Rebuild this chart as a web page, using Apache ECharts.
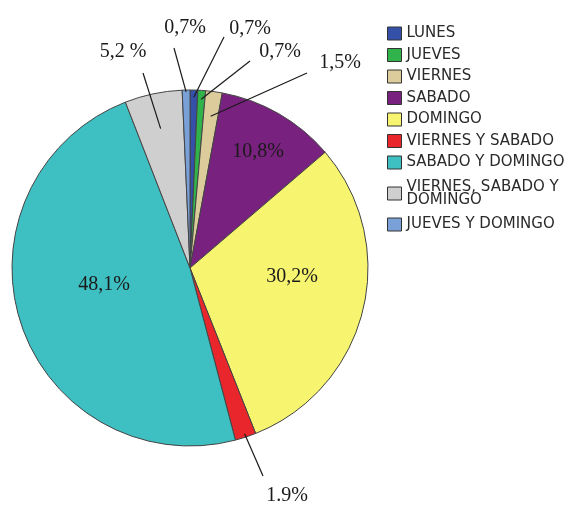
<!DOCTYPE html>
<html>
<head>
<meta charset="utf-8">
<title>Dias</title>
<script src="https://cdn.jsdelivr.net/npm/echarts@6/dist/echarts.min.js"></script>
<style>
html, body { margin: 0; padding: 0; background: #fff; }
#mainchart { width: 585px; height: 507px; }
</style>
</head>
<body>
<div id="mainchart"></div>
<script>
// categorias y porcentajes, en el orden de la leyenda (sentido horario desde las 12)
var categories = ['LUNES', 'JUEVES', 'VIERNES', 'SABADO', 'DOMINGO', 'VIERNES Y SABADO',
	'SABADO Y DOMINGO', 'VIERNES, SABADO Y DOMINGO', 'JUEVES Y DOMINGO'];
var percents = [0.7, 0.7, 1.5, 10.8, 30.2, 1.9, 48.1, 5.2, 0.7];
var labelTexts = ['0,7%', '0,7%', '1,5%', '10,8%', '30,2%', '1.9%', '48,1%', '5,2 %', '0,7%'];
var insideCats = ['SABADO', 'DOMINGO', 'SABADO Y DOMINGO'];

var colors = ['#3550a8', '#2fb34a', '#dccc9c', '#79217f', '#f7f46f', '#e8262c',
	'#3ebfc1', '#cfcfcf', '#7aa0d8'];

// geometria del pastel
var pieCenter = [190, 268];
var pieRadius = 178;
// posicion de cada etiqueta (centro del texto)
var labelPos = [[250, 29], [280, 52], [340, 63], [258, 152], [292, 277],
	[287, 496], [104, 285], [123, 52], [185, 28]];
// extremo exterior de cada linea guia y fraccion del radio donde empieza
var lineEnd = [[224, 37], [250, 61], [307, 73], null, null, [263, 476], null, [143, 73], [174, 48]];
var lineInner = [0.96, 0.95, 0.86, 0, 0, 0.98, 0, 0.8, 0.99];

var labelFont = 'Liberation Serif';
var legendFont = 'DejaVu Sans';

/**
 * datos del pastel; overlay = capa transparente que solo dibuja las lineas guia
 */
function buildData(overlay) {
	var arr = [];
	for (var i = 0; i < categories.length; i++) {
		var item = {
			name: categories[i],
			value: percents[i]
		};
		if (!overlay) {
			item.itemStyle = { color: colors[i] };
		}
		if (insideCats.indexOf(categories[i]) >= 0) {
			item.label = overlay ? { show: false } : { position: 'inside' };
			item.labelLine = { show: false };
		}
		arr.push(item);
	}
	return arr;
}

/**
 * punto interior de la linea guia: angulo medio del sector
 */
function innerPoint(idx) {
	var total = 0;
	for (var i = 0; i < percents.length; i++) {
		total += percents[i];
	}
	var before = 0;
	for (var j = 0; j < idx; j++) {
		before += percents[j];
	}
	var mid = (before + percents[idx] / 2) / total * Math.PI * 2;
	var r = pieRadius * lineInner[idx];
	return [pieCenter[0] + r * Math.sin(mid), pieCenter[1] - r * Math.cos(mid)];
}

function layoutLabel(p) {
	var q = labelPos[p.dataIndex];
	var res = { x: q[0], y: q[1], align: 'center', verticalAlign: 'middle' };
	var e = lineEnd[p.dataIndex];
	if (e) {
		var s = innerPoint(p.dataIndex);
		res.labelLinePoints = [s, e, e];
	}
	return res;
}

var myChart = echarts.init(document.getElementById('mainchart'), null, { renderer: 'canvas' });

var option = {
	backgroundColor: '#ffffff',
	animation: false,
	legend: {
		orient: 'vertical',
		left: 387,
		top: 26,
		padding: 0,
		icon: 'rect',
		itemWidth: 14,
		itemHeight: 13,
		itemGap: 6.5,
		data: categories,
		selectedMode: false,
		itemStyle: { borderColor: '#333', borderWidth: 1 },
		formatter: function (name) {
			if (name == 'VIERNES, SABADO Y DOMINGO') {
				return '{m|VIERNES, SABADO Y\nDOMINGO}';
			}
			return name;
		},
		textStyle: {
			fontFamily: legendFont,
			fontSize: 15,
			color: '#2a2a2a',
			rich: {
				m: {
					fontFamily: legendFont,
					fontSize: 15,
					color: '#2a2a2a',
					lineHeight: 13,
					padding: [3, 0, 3, 0]
				}
			}
		}
	},
	series: [{
		type: 'pie',
		center: pieCenter,
		radius: pieRadius,
		startAngle: 90,
		clockwise: true,
		avoidLabelOverlap: false,
		itemStyle: { borderColor: '#444', borderWidth: 1 },
		label: {
			show: true,
			fontFamily: labelFont,
			fontSize: 20,
			color: '#1a1a1a',
			formatter: function (p) {
				return labelTexts[p.dataIndex];
			}
		},
		labelLine: { show: false },
		labelLayout: layoutLabel,
		emphasis: { disabled: true },
		data: buildData(false)
	}, {
		// capa superior: lineas guia por encima de los sectores
		type: 'pie',
		z: 5,
		silent: true,
		center: pieCenter,
		radius: pieRadius,
		startAngle: 90,
		clockwise: true,
		avoidLabelOverlap: false,
		itemStyle: { color: 'rgba(0,0,0,0)', borderWidth: 0 },
		label: {
			show: true,
			fontFamily: labelFont,
			fontSize: 20,
			color: 'rgba(0,0,0,0)',
			formatter: function (p) {
				return labelTexts[p.dataIndex];
			}
		},
		labelLine: {
			show: true,
			length: 20,
			length2: 0,
			lineStyle: { color: '#1a1a1a', width: 1.2 }
		},
		labelLayout: layoutLabel,
		emphasis: { disabled: true },
		data: buildData(true)
	}]
};

myChart.setOption(option);
</script>
</body>
</html>
